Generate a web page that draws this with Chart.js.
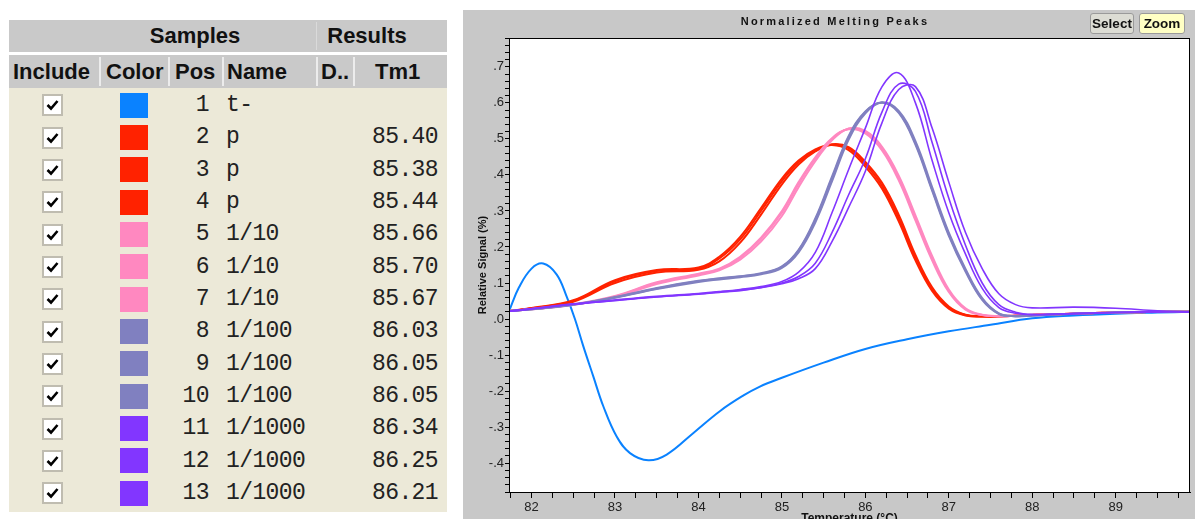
<!DOCTYPE html>
<html>
<head>
<meta charset="utf-8">
<script src="https://cdn.jsdelivr.net/npm/chart.js@4.4.1/dist/chart.umd.min.js"></script>
<style>
html, body { margin: 0; padding: 0; background: #fff; overflow: hidden; width: 1195px; height: 519px; }
.abs { position: absolute; white-space: nowrap; }
.hdr { background: #c9c9c9; }
.htxt { font: bold 22px "Liberation Sans", Arial, sans-serif; color: #111; }
.mono { font: 23px "Liberation Mono", "Courier New", monospace; letter-spacing: -0.6px; color: #222; }
.chk { width: 21px; height: 22px; box-sizing: border-box; border: 2px solid #bfbcb0; background: #fff; }
.btn { height: 21px; box-sizing: border-box; border: 1px solid #9a9a9a; border-radius: 3px;
       font: bold 13.5px "Liberation Sans", Arial, sans-serif; line-height: 19px; text-align: center; color: #111; }
#plot { position: absolute; left: 463px; top: 10px; width: 732px; height: 522px; background: #c8c8c8; }
#title { font: bold 11px "Liberation Sans", Arial, sans-serif; letter-spacing: 2.2px; color: #111; }
</style>
</head>
<body>
<div id="plot"><canvas id="meltChart" width="732" height="522"></canvas></div>
<div id="title" class="abs" style="left:735px;top:15px;width:200px;text-align:center;">Normalized Melting Peaks</div>
<div class="abs btn" style="left:1090px;top:13px;width:44px;background:#dcdcd4;">Select</div>
<div class="abs btn" style="left:1139px;top:13px;width:46px;background:#ffffc4;">Zoom</div>

<script>
// temperature grid shared by the sample curves (blue negative control has its own)
const temps = [81.73, 82.0, 82.5, 83.0, 83.5, 84.0, 84.25, 84.5, 84.75, 85.0, 85.2, 85.4, 85.6, 85.8,
               86.0, 86.2, 86.4, 86.6, 86.8, 87.0, 87.2, 87.4, 87.6, 87.8, 88.0, 88.5, 89.0, 89.5, 89.89];
const blueTemps = [81.73, 81.85, 82.0, 82.14, 82.3, 82.42, 82.52, 82.62, 82.74, 82.86, 83.02, 83.18, 83.4, 83.62,
                   83.94, 84.26, 84.54, 84.73, 85.0, 85.5, 86.0, 86.5, 87.0, 87.5, 88.0, 88.5, 89.0, 89.5, 89.89];

const samplePos = [1, 2, 3, 4, 5, 6, 7, 8, 9, 10, 11, 12, 13];
const sampleNames = ['t-', 'p', 'p', 'p', '1/10', '1/10', '1/10', '1/100', '1/100', '1/100', '1/1000', '1/1000', '1/1000'];
const sampleTm = ['', '85.40', '85.38', '85.44', '85.66', '85.70', '85.67', '86.03', '86.05', '86.05', '86.34', '86.25', '86.21'];
const sampleColors = ['#0a82ff', '#ff2200', '#ff2200', '#ff2200', '#ff88c0', '#ff88c0', '#ff88c0',
                      '#8080c0', '#8080c0', '#8080c0', '#8236ff', '#8236ff', '#8236ff'];

const signal1 = [0.022, 0.088, 0.140, 0.154, 0.124, 0.063, 0.0, -0.075, -0.159, -0.242, -0.326, -0.372, -0.392, -0.376,
                 -0.316, -0.255, -0.212, -0.188, -0.163, -0.121, -0.083, -0.056, -0.034, -0.016, 0.002, 0.010, 0.015, 0.018, 0.020];
const signal2 = [0.022, 0.030, 0.050, 0.105, 0.133, 0.140, 0.168, 0.221, 0.300, 0.383, 0.435, 0.468, 0.484, 0.474,
                 0.430, 0.370, 0.280, 0.170, 0.083, 0.032, 0.011, 0.007, 0.007, 0.009, 0.011, 0.015, 0.018, 0.020, 0.020];
const signal3 = [0.022, 0.029, 0.048, 0.100, 0.129, 0.137, 0.160, 0.212, 0.290, 0.374, 0.429, 0.465, 0.485, 0.477,
                 0.436, 0.378, 0.289, 0.178, 0.088, 0.035, 0.012, 0.008, 0.008, 0.010, 0.012, 0.015, 0.018, 0.020, 0.020];
const signal4 = [0.022, 0.031, 0.052, 0.108, 0.136, 0.143, 0.173, 0.228, 0.308, 0.390, 0.440, 0.471, 0.483, 0.469,
                 0.423, 0.362, 0.271, 0.163, 0.078, 0.029, 0.010, 0.007, 0.007, 0.009, 0.011, 0.015, 0.018, 0.020, 0.020];
const signal5 = [0.022, 0.027, 0.040, 0.063, 0.100, 0.124, 0.138, 0.170, 0.222, 0.295, 0.375, 0.445, 0.500, 0.528,
                 0.518, 0.472, 0.390, 0.280, 0.168, 0.078, 0.028, 0.011, 0.008, 0.009, 0.011, 0.015, 0.018, 0.020, 0.020];
const signal6 = [0.022, 0.027, 0.039, 0.061, 0.097, 0.121, 0.135, 0.165, 0.215, 0.286, 0.366, 0.438, 0.496, 0.529,
                 0.522, 0.478, 0.398, 0.288, 0.175, 0.082, 0.030, 0.012, 0.008, 0.009, 0.011, 0.015, 0.018, 0.020, 0.020];
const signal7 = [0.022, 0.028, 0.041, 0.064, 0.102, 0.126, 0.140, 0.173, 0.226, 0.300, 0.380, 0.449, 0.502, 0.527,
                 0.515, 0.468, 0.385, 0.274, 0.163, 0.075, 0.026, 0.011, 0.008, 0.009, 0.011, 0.015, 0.018, 0.020, 0.020];
const signal8 = [0.022, 0.027, 0.040, 0.060, 0.085, 0.105, 0.112, 0.118, 0.126, 0.145, 0.190, 0.275, 0.390, 0.505,
                 0.575, 0.602, 0.575, 0.488, 0.360, 0.235, 0.135, 0.055, 0.015, 0.008, 0.010, 0.015, 0.018, 0.020, 0.020];
const signal9 = [0.022, 0.027, 0.040, 0.059, 0.083, 0.103, 0.110, 0.116, 0.124, 0.142, 0.185, 0.268, 0.382, 0.498,
                 0.571, 0.601, 0.578, 0.494, 0.366, 0.240, 0.139, 0.058, 0.016, 0.008, 0.010, 0.015, 0.018, 0.020, 0.020];
const signal10 = [0.022, 0.027, 0.040, 0.061, 0.086, 0.106, 0.113, 0.119, 0.127, 0.146, 0.192, 0.279, 0.395, 0.508,
                  0.576, 0.600, 0.572, 0.484, 0.356, 0.231, 0.132, 0.053, 0.014, 0.008, 0.010, 0.015, 0.018, 0.020, 0.020];
const signal11 = [0.022, 0.028, 0.041, 0.051, 0.061, 0.069, 0.074, 0.079, 0.087, 0.098, 0.112, 0.140, 0.215, 0.310,
                  0.410, 0.545, 0.637, 0.645, 0.530, 0.380, 0.240, 0.140, 0.070, 0.040, 0.031, 0.033, 0.030, 0.023, 0.020];
const signal12 = [0.022, 0.028, 0.041, 0.052, 0.062, 0.070, 0.075, 0.080, 0.088, 0.100, 0.118, 0.155, 0.240, 0.345,
                  0.445, 0.575, 0.652, 0.632, 0.490, 0.335, 0.205, 0.100, 0.040, 0.019, 0.013, 0.015, 0.018, 0.020, 0.020];
const signal13 = [0.022, 0.029, 0.042, 0.053, 0.063, 0.071, 0.076, 0.082, 0.090, 0.104, 0.130, 0.185, 0.295, 0.415,
                  0.530, 0.645, 0.683, 0.600, 0.440, 0.295, 0.180, 0.085, 0.032, 0.016, 0.012, 0.015, 0.018, 0.020, 0.020];

const signals = [signal1, signal2, signal3, signal4, signal5, signal6, signal7,
                 signal8, signal9, signal10, signal11, signal12, signal13];

// Sample table on the left
function place(html, cls, style) {
    const el = document.createElement('div');
    el.className = 'abs ' + cls;
    el.style.cssText = style;
    el.innerHTML = html;
    document.body.appendChild(el);
    return el;
}

place('', 'hdr', 'left:9px;top:20px;width:438px;height:32px;');
place('', 'hdr', 'left:9px;top:55px;width:438px;height:33px;');
place('', '', 'left:9px;top:88px;width:438px;height:424px;background:#ece9d8;');
place('', '', 'left:316px;top:22px;width:1px;height:28px;background:#dadada;');
[99, 168, 222, 316, 353].forEach(x => {
    place('', '', `left:${x}px;top:57px;width:2px;height:29px;background:#ececec;`);
});
place('Samples', 'htxt', 'left:130px;top:20px;width:130px;line-height:32px;text-align:center;');
place('Results', 'htxt', 'left:317px;top:20px;width:100px;line-height:32px;text-align:center;');
place('Include', 'htxt', 'left:13px;top:55px;line-height:33px;');
place('Color', 'htxt', 'left:106px;top:55px;line-height:33px;');
place('Pos', 'htxt', 'left:175px;top:55px;line-height:33px;');
place('Name', 'htxt', 'left:227px;top:55px;line-height:33px;');
place('D..', 'htxt', 'left:321px;top:55px;line-height:33px;');
place('Tm1', 'htxt', 'left:375px;top:55px;line-height:33px;');

const checkSvg = '<svg width="17" height="18" style="display:block"><path d="M3.5 9 L7 12.5 L13.5 5" stroke="#000" stroke-width="2.6" fill="none"/></svg>';
samplePos.forEach((pos, i) => {
    const cy = 105.3 + i * 32.33;
    const top = cy - 16.17;
    place(checkSvg, 'chk', `left:42px;top:${cy - 11}px;`);
    place('', '', `left:120px;top:${cy - 12.5}px;width:28px;height:25px;background:${sampleColors[i]};`);
    place(String(pos), 'mono', `left:150px;top:${top}px;width:59px;line-height:32.33px;text-align:right;`);
    place(sampleNames[i], 'mono', `left:226px;top:${top}px;line-height:32.33px;`);
    place(sampleTm[i], 'mono', `left:340px;top:${top}px;width:98px;line-height:32.33px;text-align:right;`);
});

// Melting peaks chart
const plotFrame = {
    id: 'plotFrame',
    beforeDraw(chart) {
        const {ctx, chartArea: a} = chart;
        ctx.save();
        ctx.fillStyle = '#fff';
        ctx.fillRect(a.left, a.top, a.right - a.left, a.bottom - a.top);
        ctx.restore();
    },
    afterDraw(chart) {
        const {ctx, chartArea: a} = chart;
        ctx.save();
        ctx.strokeStyle = '#000';
        ctx.lineWidth = 1;
        ctx.strokeRect(a.left + 0.5, a.top + 0.5, a.right - a.left - 1, a.bottom - a.top);
        ctx.restore();
    }
};

const tickFont = {family: '"Liberation Sans", Arial, sans-serif', size: 13};

function yLabel(v) {
    if (Math.abs(v * 10 - Math.round(v * 10)) > 1e-6) return '';
    if (Math.abs(v) < 1e-9) return '.0';
    return v.toFixed(1).replace('0.', '.');
}

new Chart(document.getElementById('meltChart'), {
    type: 'line',
    data: {
        datasets: signals.map((vals, i) => ({
            label: sampleNames[i],
            data: vals.map((v, k) => ({x: (i === 0 ? blueTemps : temps)[k], y: v})),
            borderColor: sampleColors[i],
            borderWidth: i >= 10 ? 1.6 : 2,
            pointRadius: 0,
            tension: 0.4,
            fill: false,
            order: 13 - i
        }))
    },
    options: {
        responsive: false,
        animation: false,
        layout: {padding: {top: 28, right: 5, left: 0, bottom: 0}},
        plugins: {legend: {display: false}, tooltip: {enabled: false}},
        scales: {
            x: {
                type: 'linear',
                min: 81.73,
                max: 89.89,
                afterFit: s => { s.height = 40; },
                ticks: {
                    stepSize: 0.25,
                    autoSkip: false,
                    includeBounds: false,
                    maxRotation: 0,
                    padding: 2,
                    color: '#222',
                    font: tickFont,
                    callback: v => Math.abs(v - Math.round(v)) < 1e-6 ? String(Math.round(v)) : ''
                },
                grid: {drawOnChartArea: false, tickLength: 6, tickColor: '#000'},
                border: {color: '#000'},
                title: {
                    display: true,
                    text: 'Temperature (°C)',
                    color: '#111',
                    font: {family: '"Liberation Sans", Arial, sans-serif', size: 12, weight: 'bold'},
                    padding: {top: 0, bottom: 6}
                }
            },
            y: {
                type: 'linear',
                min: -0.48,
                max: 0.78,
                afterFit: s => { s.width = 46; },
                ticks: {
                    stepSize: 0.02,
                    autoSkip: false,
                    includeBounds: false,
                    padding: 1,
                    color: '#222',
                    font: tickFont,
                    callback: yLabel
                },
                grid: {drawOnChartArea: false, tickLength: 4, tickColor: '#000'},
                border: {color: '#000'},
                title: {
                    display: true,
                    text: 'Relative Signal (%)',
                    color: '#111',
                    font: {family: '"Liberation Sans", Arial, sans-serif', size: 11, weight: 'bold'},
                    padding: {top: 13, bottom: 0}
                }
            }
        }
    },
    plugins: [plotFrame]
});
</script>
</body>
</html>
